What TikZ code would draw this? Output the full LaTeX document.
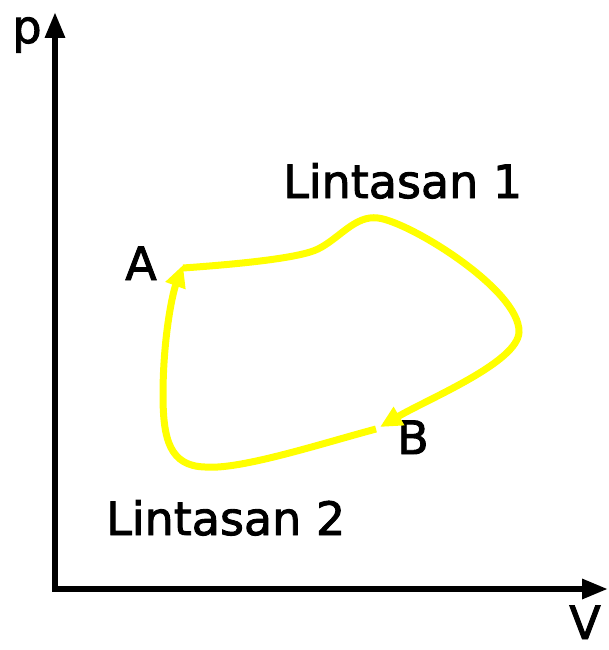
\documentclass[tikz,border=0pt]{standalone}
\usepackage{fontspec}
\setmainfont{DejaVu Sans}
\newfontfamily\lblfont[FakeBold=2]{DejaVu Sans}
\usetikzlibrary{arrows.meta}
\definecolor{pathyellow}{RGB}{255,255,0}
\begin{document}
\begin{tikzpicture}[x=1pt,y=-1pt,
  lbl/.style={inner sep=0pt,font=\lblfont\fontsize{46}{50}\selectfont,text=black},
  axis/.style={line width=6pt,-{Triangle[length=26pt,width=19pt]}},
  pathline/.style={draw=pathyellow,line width=7pt,line cap=butt,-{Triangle[length=22pt,width=20pt,fill=pathyellow]}}]
\useasboundingbox (0,0) rectangle (609,650);
% axes
\coordinate (O) at (55,589);
\coordinate (Ytop) at (55,12);
\coordinate (Xend) at (608,589);
\draw[axis] ([yshift=3pt]O) -- (Ytop);
\draw[axis] ([xshift=-3pt]O) -- (Xend);
\node[lbl,anchor=base] (p) at (27,43) {p};
\node[lbl,anchor=base] (V) at (585,639) {V};
% labels
\node[lbl,anchor=base] (A) at (141,280) {A};
\node[lbl,anchor=base] (B) at (413,454) {B};
\node[lbl,anchor=base west] (L1) at (283,198) {Lintasan 1};
\node[lbl,anchor=base west] (L2) at (106,535) {Lintasan 2};
% path points
\coordinate (Apt) at (183,265);
\coordinate (Bpt) at (380,427);
% path 1: A -> B (top)
\draw[pathline] (183,268) .. controls (240,264) and (300,258) .. (318,249)
  .. controls (340,238) and (355,215) .. (378,218)
  .. controls (410,222) and (520,290) .. (519,332)
  .. controls (518,362) and (430,398) .. (Bpt);
% path 2: B -> A (bottom)
\draw[pathline] (376,429) .. controls (320,444) and (240,470) .. (205,467)
  .. controls (170,466) and (163,440) .. (163,395)
  .. controls (163,340) and (172,295) .. (Apt);
\end{tikzpicture}
\end{document}
